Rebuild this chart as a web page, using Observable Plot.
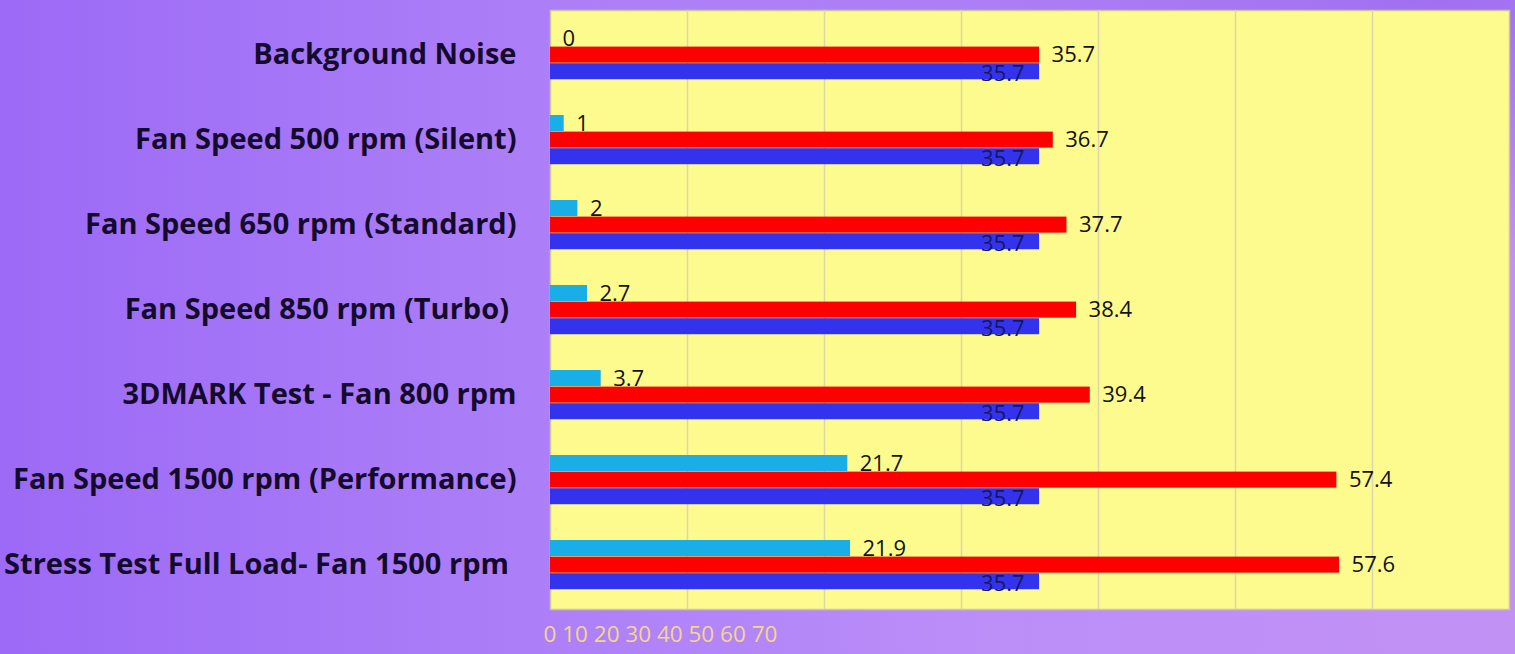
<!DOCTYPE html>
<html>
<head>
<meta charset="utf-8">
<script src="https://cdn.jsdelivr.net/npm/d3@7"></script>
<script src="https://cdn.jsdelivr.net/npm/@observablehq/plot@0.6"></script>
<style>
  html, body { margin: 0; padding: 0; width: 1515px; height: 654px; overflow: hidden; }
  body {
    background:
      radial-gradient(ellipse 60% 40% at 95% 0%, rgba(135,85,238,0.55), rgba(135,85,238,0) 100%),
      linear-gradient(to right, #9c6af6 0%, #ac7ff8 35%, #bb8ef8 65%, #c291f4 100%);
    font-family: "Open Sans", sans-serif;
  }
  #chart svg { display: block; }
</style>
</head>
<body>
<div id="chart"></div>
<script>
const categories = [
  "Background Noise",
  "Fan Speed 500 rpm (Silent)",
  "Fan Speed 650 rpm (Standard)",
  "Fan Speed 850 rpm (Turbo) ",
  "3DMARK Test - Fan 800 rpm",
  "Fan Speed 1500 rpm (Performance)",
  "Stress Test Full Load- Fan 1500 rpm "
];
const diffValues = [0, 1, 2, 2.7, 3.7, 21.7, 21.9];
const totalValues = [35.7, 36.7, 37.7, 38.4, 39.4, 57.4, 57.6];
const backgroundValues = [35.7, 35.7, 35.7, 35.7, 35.7, 35.7, 35.7];
const xTicks = [0, 10, 20, 30, 40, 50, 60, 70];

const rows = categories.map((c, i) => ({
  category: c, diff: diffValues[i], total: totalValues[i], background: backgroundValues[i]
}));

const W = 1515, H = 654, mt = 10, mb = 45, ml = 550, mr = 6;
const bw = (H - mt - mb) / categories.length;
const top0 = 18, bh = 16.6;
const inset = k => ({ insetTop: top0 + k * bh, insetBottom: bw - top0 - (k + 1) * bh });
const centerDy = k => top0 + (k + 0.5) * bh - bw / 2;

const chart = Plot.plot({
  width: W, height: H,
  marginTop: mt, marginBottom: mb, marginLeft: ml, marginRight: mr,
  style: { background: "transparent", fontFamily: "Open Sans, sans-serif", overflow: "visible" },
  x: { domain: [0, 70], axis: null },
  y: { domain: categories, padding: 0, axis: null },
  marks: [
    Plot.frame({ fill: "#fdfb8e", stroke: "#cfc79a", strokeWidth: 1.5 }),
    Plot.gridX(xTicks.slice(1, -1), { stroke: "#dcd6aa", strokeOpacity: 1, strokeWidth: 1.5 }),
    Plot.barX(rows, { x: "diff", y: "category", fill: "#19aee6", ...inset(0) }),
    Plot.barX(rows, { x: "total", y: "category", fill: "#ff0000", ...inset(1) }),
    Plot.barX(rows, { x: "background", y: "category", fill: "#3333ee", ...inset(2) }),
    Plot.text(rows, { x: "diff", y: "category", text: d => String(d.diff), dx: 12, dy: centerDy(0), textAnchor: "start", fill: "#111", fontSize: 22 }),
    Plot.text(rows, { x: "total", y: "category", text: d => String(d.total), dx: 12, dy: centerDy(1), textAnchor: "start", fill: "#111", fontSize: 22 }),
    Plot.text(rows, { x: "background", y: "category", text: d => String(d.background), dx: -15, dy: centerDy(2) + 2, textAnchor: "end", fill: "#17175e", fontSize: 22 }),
    Plot.axisY({ tickSize: 0, tickPadding: 34, fontSize: 29, fontWeight: "bold", fill: "#140b2c", label: null }),
    Plot.text([xTicks.join(" ")], { x: () => 0, frameAnchor: "bottom", dy: 32, dx: -7, textAnchor: "start", fill: "#f6d48c", fontSize: 22.5 })
  ]
});
document.getElementById("chart").appendChild(chart);
</script>
</body>
</html>
